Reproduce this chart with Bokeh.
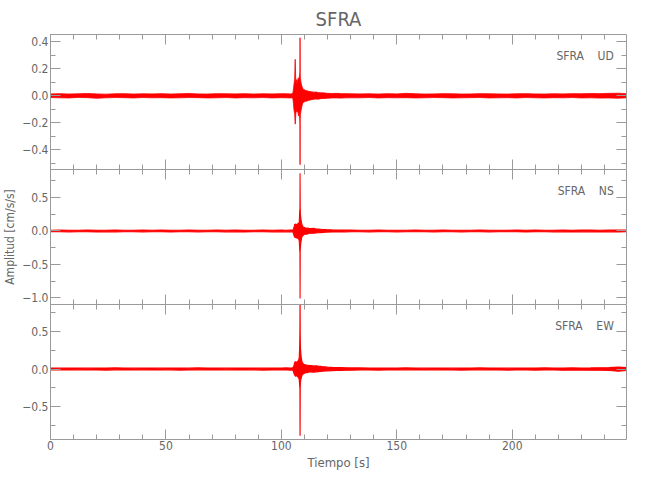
from bokeh.plotting import figure
from bokeh.layouts import column
from bokeh.models import (ColumnDataSource, LinearAxis, SingleIntervalTicker,
                          CustomJSTickFormatter, Range1d, Label)
from bokeh.embed import file_html
from bokeh.resources import INLINE

# ---------------- data (envelope of each trace) -------------
t_pre = [0, 4, 8, 12, 16, 20, 24, 28, 32, 36, 40, 44, 48, 52, 56, 60, 64, 68, 72, 76,
         80, 84, 88, 92, 96, 100, 102, 104]
t_ev = [104.5, 105, 105.25, 105.5, 105.75, 106, 106.25, 106.5, 106.75, 107, 107.25,
        107.5, 107.75, 107.95, 108.05, 108.1, 108.15, 108.25, 108.5, 108.75, 109,
        109.25, 109.5, 109.75, 110, 110.5, 111, 111.5, 112]
t_post = [113, 114, 115, 116, 117, 118, 119, 120, 122, 124, 126, 128, 130]
t_q = [134, 138, 142, 146, 150, 154, 158, 162, 166, 170, 174, 178, 182, 186, 190, 194,
       198, 202, 206, 210, 214, 218, 222, 226, 230, 234, 238, 242, 246, 249.5]
tiempo = t_pre + t_ev + t_post + t_q

ud_hi = ([.014, .016, .013, .015, .017, .014, .012, .015, .016, .013, .015, .014, .016, .013,
          .015, .017, .014, .013, .016, .015, .014, .016, .013, .015, .014, .016, .015, .014] +
         [.016, .02, .05, .09, .12, .27, .10, .12, .09, .11, .13, .12, .14, .16, .19, .43, .17,
          .13, .10, .08, .065, .055, .05, .045, .045, .04, .038, .035, .032] +
         [.03, .027, .028, .024, .022, .022, .02, .018, .017, .018, .016, .016, .015] +
         [.014, .015, .013, .016, .014, .018, .015, .013, .014, .016, .015, .013, .014, .016,
          .015, .014, .013, .015, .016, .014, .013, .015, .014, .016, .015, .017, .016, .018,
          .019, .016])
ud_lo = ([-.013, -.015, -.016, -.012, -.014, -.018, -.015, -.013, -.014, -.016, -.013, -.015,
          -.014, -.016, -.015, -.013, -.014, -.016, -.015, -.013, -.016, -.014, -.015, -.013,
          -.016, -.014, -.015, -.016] +
         [-.015, -.02, -.06, -.11, -.13, -.21, -.14, -.10, -.12, -.11, -.13, -.15, -.12, -.17,
          -.2, -.51, -.18, -.14, -.11, -.09, -.07, -.055, -.05, -.048, -.045, -.04, -.04,
          -.035, -.033] +
         [-.029, -.026, -.024, -.025, -.021, -.02, -.02, -.018, -.016, -.016, -.017, -.015,
          -.015] +
         [-.015, -.013, -.016, -.014, -.015, -.014, -.016, -.015, -.013, -.014, -.016, -.015,
          -.014, -.013, -.016, -.015, -.014, -.016, -.013, -.015, -.016, -.014, -.015, -.013,
          -.016, -.015, -.017, -.016, -.018, -.015])

ns_hi = ([.012, .013, .011, .012, .014, .012, .011, .013, .012, .011, .013, .012, .014, .012,
          .011, .013, .012, .011, .013, .012, .014, .012, .011, .013, .012, .013, .012, .013] +
         [.013, .015, .03, .06, .10, .09, .11, .08, .10, .09, .12, .10, .14, .30, .33, .865,
          .36, .25, .17, .12, .09, .07, .06, .055, .05, .045, .04, .045, .035] +
         [.035, .04, .03, .028, .025, .022, .02, .018, .016, .015, .014, .013, .013] +
         [.012, .011, .013, .012, .011, .012, .013, .011, .012, .013, .012, .011, .012, .013,
          .012, .011, .012, .013, .012, .014, .012, .011, .013, .012, .014, .013, .012, .014,
          .015, .013])
ns_lo = ([-.012, -.011, -.013, -.012, -.011, -.014, -.012, -.013, -.011, -.012, -.013, -.011,
          -.012, -.014, -.012, -.011, -.013, -.012, -.011, -.013, -.012, -.014, -.012, -.011,
          -.013, -.012, -.013, -.012] +
         [-.013, -.016, -.04, -.07, -.09, -.10, -.08, -.11, -.09, -.10, -.12, -.11, -.15,
          -.28, -.32, -1.01, -.30, -.24, -.16, -.11, -.08, -.07, -.065, -.055, -.05, -.045,
          -.05, -.04, -.035] +
         [-.033, -.035, -.03, -.026, -.024, -.022, -.02, -.017, -.016, -.015, -.014, -.013,
          -.012] +
         [-.011, -.013, -.012, -.011, -.013, -.012, -.011, -.012, -.013, -.011, -.012, -.013,
          -.012, -.011, -.013, -.012, -.011, -.012, -.014, -.012, -.011, -.013, -.012, -.014,
          -.012, -.013, -.014, -.013, -.015, -.012])

ew_hi = ([.012, .011, .013, .012, .011, .013, .012, .014, .012, .011, .013, .012, .011, .013,
          .012, .011, .014, .012, .013, .011, .012, .013, .012, .011, .013, .012, .014, .013] +
         [.014, .016, .03, .05, .08, .10, .08, .09, .10, .08, .11, .12, .15, .30, .51, .93,
          .45, .28, .18, .12, .09, .08, .07, .06, .06, .055, .05, .05, .045] +
         [.045, .04, .042, .038, .035, .03, .028, .025, .022, .02, .018, .016, .015] +
         [.014, .013, .012, .013, .012, .014, .012, .011, .013, .012, .011, .013, .012, .014,
          .012, .013, .011, .012, .013, .012, .014, .013, .012, .015, .013, .014, .016, .018,
          .025, .02])
ew_lo = ([-.011, -.013, -.012, -.011, -.013, -.012, -.014, -.011, -.012, -.013, -.011, -.012,
          -.013, -.011, -.014, -.012, -.011, -.013, -.012, -.011, -.013, -.012, -.011, -.014,
          -.012, -.013, -.012, -.014] +
         [-.014, -.017, -.035, -.06, -.08, -.09, -.10, -.08, -.09, -.10, -.11, -.12, -.14,
          -.22, -.26, -.89, -.24, -.18, -.13, -.10, -.08, -.07, -.065, -.06, -.055, -.05,
          -.05, -.045, -.04] +
         [-.04, -.042, -.038, -.035, -.032, -.03, -.027, -.024, -.021, -.02, -.018, -.016,
          -.015] +
         [-.013, -.012, -.014, -.012, -.013, -.011, -.013, -.012, -.011, -.013, -.012, -.014,
          -.012, -.011, -.013, -.012, -.014, -.013, -.012, -.014, -.013, -.012, -.015, -.013,
          -.014, -.016, -.015, -.02, -.03, -.018])

station = "SFRA"
components = ["UD", "NS", "EW"]
x_limits = (0, 249.5)
y_limits = [(-0.546, 0.454), (-1.10, 0.92), (-0.94, 0.86)]
y_steps = [0.2, 0.5, 0.5]

# ---------------- styling ---------------------------------------------------------
FONT = "DejaVu Sans Condensed"
TXT = "#666666"
AX = "#9a9a9a"
RED = "#ff0000"
EDGE_W = [0.8, 1.1, 1.2]

y_fmt = CustomJSTickFormatter(code="""
const v = Math.abs(tick) < 1e-9 ? 0 : tick;
return v.toFixed(1).replace('-', '\u2212');
""")


def style_axis(ax, labels):
    ax.axis_line_color = AX
    ax.major_tick_line_color = AX
    ax.minor_tick_line_color = AX
    ax.major_tick_in = 10
    ax.major_tick_out = 0
    ax.minor_tick_in = 5
    ax.minor_tick_out = 0
    ax.major_label_text_font = FONT
    ax.major_label_text_color = TXT
    ax.axis_label_text_font = FONT
    ax.axis_label_text_color = TXT
    ax.axis_label_text_font_style = "normal"
    if labels:
        ax.major_label_text_font_size = "12px"
        ax.major_label_standoff = 2
    else:
        ax.major_label_text_font_size = "0px"
        ax.major_label_standoff = 0


traces = [(ud_hi, ud_lo), (ns_hi, ns_lo), (ew_hi, ew_lo)]
figs = []
x_range = Range1d(*x_limits)
for i, comp in enumerate(components):
    top = i == 0
    bottom = i == len(components) - 1
    p = figure(frame_width=576, frame_height=135, x_range=x_range,
               y_range=Range1d(*y_limits[i]), output_backend="svg",
               toolbar_location=None, x_axis_location=None, y_axis_location=None,
               min_border_left=40, min_border_right=18,
               min_border_top=32 if top else 0, min_border_bottom=0,
               background_fill_color="white", border_fill_color="white")
    p.outline_line_color = None
    p.xgrid.visible = False
    p.ygrid.visible = False

    hi, lo = traces[i]
    src = ColumnDataSource(dict(t=tiempo, hi=hi, lo=lo))
    p.varea(x="t", y1="lo", y2="hi", source=src, fill_color=RED)
    p.line(x="t", y="hi", source=src, line_color=RED, line_width=EDGE_W[i])
    p.line(x="t", y="lo", source=src, line_color=RED, line_width=EDGE_W[i])

    # axes on all four sides
    for loc in ["left", "right"]:
        ax = LinearAxis(ticker=SingleIntervalTicker(interval=y_steps[i], num_minor_ticks=2),
                        formatter=y_fmt)
        style_axis(ax, loc == "left")
        if loc == "left" and i == 1:
            ax.axis_label = "Amplitud [cm/s/s]"
            ax.axis_label_text_font_size = "12px"
            ax.axis_label_standoff = 2
        p.add_layout(ax, loc)
    for loc in ["above", "below"]:
        ax = LinearAxis(ticker=SingleIntervalTicker(interval=50, num_minor_ticks=5))
        style_axis(ax, loc == "below" and bottom)
        if loc == "below" and bottom:
            ax.major_label_standoff = 1
            ax.axis_label = "Tiempo [s]"
            ax.axis_label_text_font_size = "13px"
            ax.axis_label_standoff = 2
        p.add_layout(ax, loc)

    if top:
        p.title.text = station
        p.title.align = "center"
        p.title.text_font = FONT
        p.title.text_font_size = "20px"
        p.title.text_font_style = "normal"
        p.title.text_color = TXT
        p.title.standoff = 8

    lbl = Label(x=244, y=(y_limits[i][1] - 0.156 * (y_limits[i][1] - y_limits[i][0])),
                text=station + "\u00a0\u00a0\u00a0\u00a0" + comp,
                text_align="right", text_baseline="middle",
                text_font=FONT, text_font_size="12px", text_color=TXT)
    p.add_layout(lbl)
    figs.append(p)

layout = column(*figs, spacing=0)
open("out.html", "w").write(file_html(layout, INLINE))
